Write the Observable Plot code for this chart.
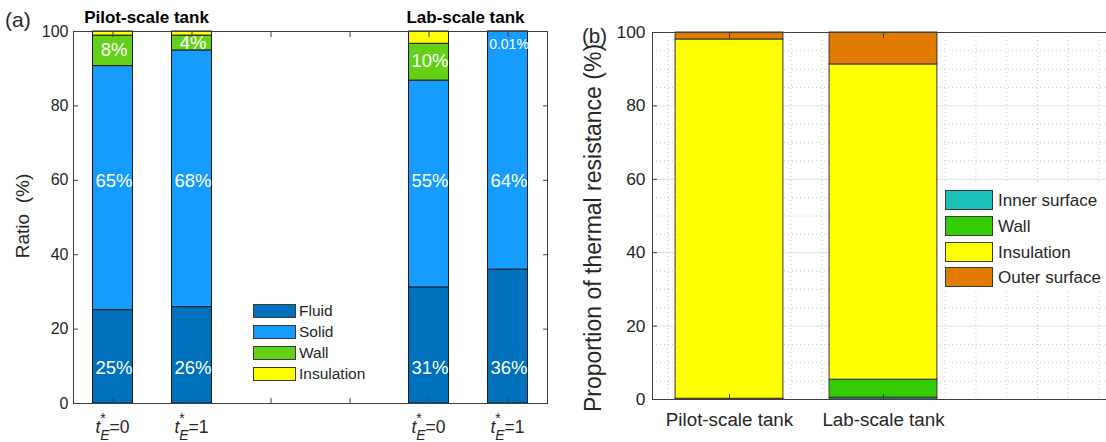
<!DOCTYPE html>
<html>
<head>
<meta charset="utf-8">
<script src="https://cdn.jsdelivr.net/npm/d3@7"></script>
<script src="https://cdn.jsdelivr.net/npm/@observablehq/plot@0.6"></script>
<style>
  html, body { margin: 0; padding: 0; background: #fff; overflow: hidden; width: 1106px; height: 442px; }
  #wrap { position: relative; width: 1106px; height: 442px; overflow: hidden; font-family: "Liberation Sans", Arial, Helvetica, sans-serif; color: #262626; }
  .abs { position: absolute; white-space: pre; line-height: 1; }
  .panel { position: absolute; top: 0; }
  .leg { position: absolute; background: #fff; }
  .sw { box-sizing: border-box; border: 1px solid #3a3a3a; }
  .rot { transform: translate(-50%, -50%) rotate(-90deg); }
</style>
</head>
<body>
<div id="wrap"></div>
<script>
const FONT = '"Liberation Sans", Arial, Helvetica, sans-serif';
const INK = "#262626";
const AXIS = "#404040";

// ---------- Panel (a) data ----------
const tanksA = ["Pilot-scale tank", "Lab-scale tank"];
const barPosA = [1, 2, 5, 6];
const barTimeA = [0, 1, 0, 1];
const componentsA = ["Fluid", "Solid", "Wall", "Insulation"];
const coloursA = ["#0072BD", "#169BFF", "#64D118", "#FFFF00"];
const fluidA = [25.1, 25.9, 31.2, 36.0];
const solidA = [65.6, 69.0, 55.6, 63.9];
const wallA = [8.2, 4.0, 9.9, 0.01];
const insulationA = [1.1, 1.1, 3.3, 0.09];
const fluidLabelA = ["25%", "26%", "31%", "36%"];
const solidLabelA = ["65%", "68%", "55%", "64%"];
const wallLabelA = ["8%", "4%", "10%", "0.01%"];
const fluidLabelYA = [9.5, 9.5, 9.5, 9.5];
const solidLabelYA = [59.7, 59.7, 59.7, 59.7];
const wallLabelYA = [94.9, 96.9, 92.1, 96.6];
const yTicksA = [0, 20, 40, 60, 80, 100];
const xTicksA = [1, 2, 3, 4, 5, 6];

// ---------- Panel (b) data ----------
const tanksB = ["Pilot-scale tank", "Lab-scale tank"];
const barPosB = [1, 2];
const componentsB = ["Inner surface", "Wall", "Insulation", "Outer surface"];
const coloursB = ["#1ABFB5", "#33CC00", "#FFFF00", "#E07B00"];
const innerB = [0.1, 0.5];
const wallB = [0.1, 4.9];
const insulationB = [97.9, 85.9];
const outerB = [1.9, 8.7];
const yTicksB = [0, 20, 40, 60, 80, 100];

// ---------- build stacked rows ----------
function stackRows(positions, comps, series, halfWidth) {
  const rows = [];
  positions.forEach((p, i) => {
    let base = 0;
    comps.forEach((c, j) => {
      const v = series[j][i];
      rows.push({pos: p, component: c, x1: p - halfWidth, x2: p + halfWidth, y1: base, y2: base + v});
      base += v;
    });
  });
  return rows;
}
const rowsA = stackRows(barPosA, componentsA, [fluidA, solidA, wallA, insulationA], 0.253);
const rowsB = stackRows(barPosB, componentsB, [innerB, wallB, insulationB, outerB], 0.35);

const labelRowsA = [];
barPosA.forEach((p, i) => {
  labelRowsA.push({pos: p, y: fluidLabelYA[i], t: fluidLabelA[i], small: false});
  labelRowsA.push({pos: p, y: solidLabelYA[i], t: solidLabelA[i], small: false});
  labelRowsA.push({pos: p, y: wallLabelYA[i], t: wallLabelA[i], small: wallLabelA[i].length > 3});
});

const wrap = document.getElementById("wrap");

// ---------- Panel (a) ----------
const plotA = Plot.plot({
  width: 560, height: 442,
  marginLeft: 73, marginRight: 13, marginTop: 31, marginBottom: 39,
  style: {fontFamily: FONT, fontSize: "16px", color: INK, background: "transparent", overflow: "visible"},
  x: {domain: [0.5, 6.5]},
  y: {domain: [0, 100]},
  color: {domain: componentsA, range: coloursA},
  marks: [
    Plot.rect(rowsA, {x1: "x1", x2: "x2", y1: "y1", y2: "y2", fill: "component", stroke: "#1a1a1a", strokeWidth: 1}),
    Plot.text(labelRowsA.filter(d => !d.small), {x: "pos", y: "y", text: "t", fill: "white", fontSize: 18.5, dx: 1}),
    Plot.text(labelRowsA.filter(d => d.small), {x: "pos", y: "y", text: "t", fill: "white", fontSize: 14, dx: 1}),
    Plot.frame({stroke: AXIS}),
    Plot.axisY({ticks: yTicksA, anchor: "left", tickSize: 0, tickPadding: 5, fontSize: 16, label: null, fill: INK}),
    Plot.axisY({ticks: yTicksA, anchor: "left", tickSize: 5, dx: 5, tickFormat: () => "", label: null, stroke: AXIS}),
    Plot.axisY({ticks: yTicksA, anchor: "right", tickSize: 5, dx: -5, tickFormat: () => "", label: null, stroke: AXIS}),
    Plot.axisX({ticks: xTicksA, anchor: "bottom", tickSize: 5, dy: -5, tickFormat: () => "", label: null, stroke: AXIS}),
    Plot.axisX({ticks: xTicksA, anchor: "top", tickSize: 5, dy: 5, tickFormat: () => "", label: null, stroke: AXIS})
  ]
});
plotA.classList.add("panel");
plotA.style.left = "0px";
wrap.appendChild(plotA);

// rich tick labels t*_E = n
{
  const sx = plotA.scale("x"), sy = plotA.scale("y");
  const g = d3.select(plotA).append("g")
    .attr("font-family", FONT).attr("fill", INK).attr("text-anchor", "middle").attr("font-size", 17.5);
  barPosA.forEach((p, i) => {
    const t = g.append("text").attr("x", sx.apply(p)).attr("y", sy.apply(0) + 30);
    t.append("tspan").attr("font-style", "italic").text("t");
    t.append("tspan").attr("font-size", 14).attr("dy", -10).text("*");
    t.append("tspan").attr("font-size", 14).attr("font-style", "italic").attr("dx", -5.5).attr("dy", 17).text("E");
    t.append("tspan").attr("dy", -7).text("=" + barTimeA[i]);
  });
}

// ---------- Panel (b) ----------
const minorY = d3.range(5, 100, 5).filter(v => v % 20 !== 0);
const majorY = [20, 40, 60, 80];
const minorX = d3.range(6, 35, 2).map(v => v / 10);

const plotB = Plot.plot({
  width: 560, height: 442,
  marginLeft: 92, marginRight: 6, marginTop: 32, marginBottom: 43,
  style: {fontFamily: FONT, fontSize: "16px", color: INK, background: "transparent", overflow: "visible"},
  x: {domain: [0.5, 3.5]},
  y: {domain: [0, 100]},
  color: {domain: componentsB, range: coloursB},
  marks: [
    Plot.gridY(minorY, {stroke: "#c8c8c8", strokeOpacity: 1, strokeDasharray: "1,3"}),
    Plot.gridY(majorY, {stroke: "#e2e2e2", strokeOpacity: 1}),
    Plot.gridX(minorX, {stroke: "#c8c8c8", strokeOpacity: 1, strokeDasharray: "1,3"}),
    Plot.rect(rowsB, {x1: "x1", x2: "x2", y1: "y1", y2: "y2", fill: "component", stroke: "#333", strokeWidth: 1}),
    Plot.frame({stroke: AXIS}),
    Plot.axisY({ticks: yTicksB, anchor: "left", tickSize: 0, tickPadding: 7, fontSize: 17.4, label: null, fill: INK}),
    Plot.axisY({ticks: yTicksB, anchor: "left", tickSize: 5, dx: 5, tickFormat: () => "", label: null, stroke: AXIS}),
    Plot.axisX({ticks: barPosB, anchor: "bottom", tickSize: 0, tickPadding: 13, fontSize: 18.8, tickFormat: d => tanksB[d - 1], label: null, fill: INK}),
    Plot.axisX({ticks: barPosB, anchor: "bottom", tickSize: 5, dy: -5, tickFormat: () => "", label: null, stroke: AXIS}),
    Plot.axisX({ticks: barPosB, anchor: "top", tickSize: 5, dy: 5, tickFormat: () => "", label: null, stroke: AXIS})
  ]
});
plotB.classList.add("panel");
plotB.style.left = "560px";
wrap.appendChild(plotB);

// ---------- texts ----------
function addText(txt, left, top, size, extra = {}) {
  const d = document.createElement("div");
  d.className = "abs";
  d.textContent = txt;
  d.style.left = left + "px";
  d.style.top = top + "px";
  d.style.fontSize = size + "px";
  Object.assign(d.style, extra);
  wrap.appendChild(d);
  return d;
}
addText("(a)", 5, 8.5, 21);
addText("(b)", 582, 26, 20.5);
addText(tanksA[0], 146.5, 9.2, 17, {fontWeight: "bold", transform: "translateX(-50%)", color: "#000"});
addText(tanksA[1], 465.5, 9.2, 17, {fontWeight: "bold", transform: "translateX(-50%)", color: "#000"});
const ylA = addText("Ratio  (%)", 21.5, 215.5, 19);
ylA.classList.add("rot");
const ylB = addText("Proportion of thermal resistance (%)", 593, 228, 23);
ylB.classList.add("rot");

// ---------- legends ----------
function addLegend(comps, colours, left, top, w, h, swW, swH, rowTops, pos, fontSize) {
  const box = document.createElement("div");
  box.className = "leg";
  box.style.left = left + "px"; box.style.top = top + "px";
  box.style.width = w + "px"; box.style.height = h + "px";
  comps.forEach((c, i) => {
    const sw = document.createElement("div");
    sw.className = "sw";
    sw.style.position = "absolute";
    sw.style.left = (pos.sw - left) + "px";
    sw.style.top = (rowTops[i] - top) + "px";
    sw.style.width = swW + "px"; sw.style.height = swH + "px";
    sw.style.background = colours[i];
    box.appendChild(sw);
    const t = document.createElement("div");
    t.className = "abs";
    t.textContent = c;
    t.style.left = (pos.tx - left) + "px";
    t.style.top = (rowTops[i] - top + swH / 2 - 0.49 * fontSize) + "px";
    t.style.fontSize = fontSize + "px";
    box.appendChild(t);
  });
  wrap.appendChild(box);
}
addLegend(componentsA, coloursA, 248, 298, 128, 90, 43, 14, [304, 325, 346, 367], {sw: 253, tx: 299}, 15.5);
addLegend(componentsB, coloursB, 938, 184, 168, 108, 48, 20, [190, 216, 242, 267], {sw: 945, tx: 998}, 17);
</script>
</body>
</html>
